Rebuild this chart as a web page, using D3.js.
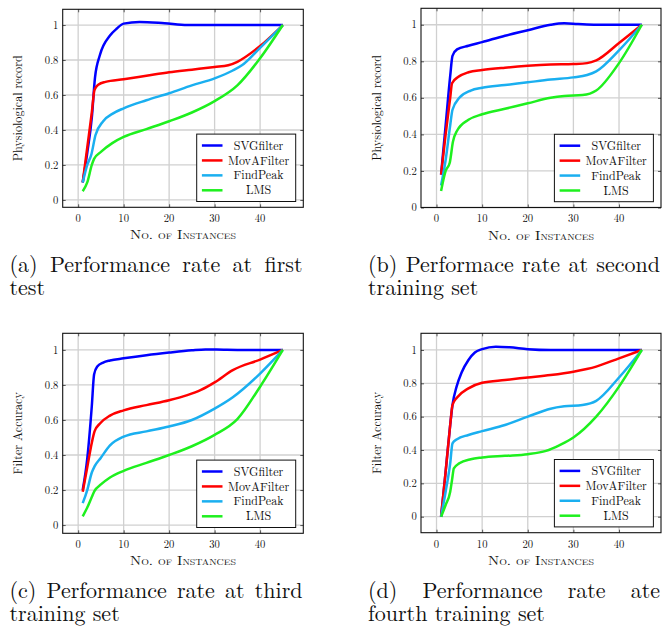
<!DOCTYPE html>
<html>
<head>
<meta charset="utf-8">
<script src="https://cdn.jsdelivr.net/npm/d3@7"></script>
<style>
  html, body { margin: 0; padding: 0; background: #fff; }
  svg { display: block; }
</style>
</head>
<body>
<svg id="chart" width="670" height="627"></svg>
<script>
// ---------------- data ----------------
const seriesNames = ["SVGfilter", "MovAFilter", "FindPeak", "LMS"];
const seriesColors = ["#0000ff", "#ff0000", "#1aaff0", "#1ef01e"];
const xTicks = [0, 10, 20, 30, 40];
const yTicks = [0, 0.2, 0.4, 0.6, 0.8, 1];
const xLabel = "No. of Instances";

// panel (a)
const aSVGfilter  = [[1,0.1],[2,0.27],[3,0.47],[3.7,0.7],[4.8,0.83],[7,0.94],[8.5,0.98],[10,1.008],[13.5,1.018],[19,1.01],[24,1.0],[30,1.0],[45,1.0]];
const aMovAFilter = [[1,0.1],[2,0.3],[3,0.5],[3.6,0.63],[4.5,0.66],[6,0.675],[10,0.69],[15,0.71],[20,0.73],[25,0.745],[30,0.76],[33,0.77],[35,0.79],[40,0.88],[45,1.0]];
const aFindPeak   = [[1,0.1],[2,0.2],[2.9,0.26],[3.8,0.37],[5.5,0.45],[7.7,0.495],[10,0.524],[15,0.57],[20,0.61],[25,0.655],[30,0.695],[34,0.74],[36,0.77],[40,0.87],[45,1.0]];
const aLMS        = [[1,0.05],[2,0.1],[3,0.2],[3.5,0.235],[5,0.275],[7.5,0.325],[10,0.36],[15,0.405],[20,0.45],[25,0.5],[30,0.565],[35,0.655],[40,0.81],[45,1.0]];

// panel (b)
const bSVGfilter  = [[1,0.18],[2,0.45],[3,0.72],[3.5,0.83],[4.5,0.865],[7,0.885],[10,0.905],[15,0.94],[20,0.97],[25,1.0],[28,1.008],[31,1.004],[35,1.0],[45,1.0]];
const bMovAFilter = [[1,0.18],[2,0.4],[3,0.6],[3.4,0.68],[4.8,0.715],[7,0.74],[10,0.752],[15,0.765],[20,0.775],[25,0.782],[30,0.785],[33,0.79],[35,0.805],[40,0.9],[45,1.0]];
const bFindPeak   = [[1,0.12],[2,0.26],[3,0.45],[3.5,0.535],[5,0.6],[7.5,0.64],[10,0.655],[15,0.67],[20,0.685],[25,0.7],[30,0.712],[33,0.725],[35,0.745],[40,0.86],[45,1.0]];
const bLMS        = [[1,0.09],[2,0.2],[2.9,0.245],[3.6,0.36],[4.5,0.42],[7,0.48],[10,0.51],[15,0.54],[20,0.57],[25,0.6],[28,0.61],[32,0.615],[35,0.64],[40,0.79],[45,1.0]];

// panel (c)
const cSVGfilter  = [[1,0.2],[2,0.38],[3,0.68],[3.5,0.86],[4.2,0.905],[5.5,0.928],[7,0.94],[10,0.952],[15,0.97],[20,0.985],[25,0.998],[28,1.003],[32,1.001],[35,1.0],[45,1.0]];
const cMovAFilter = [[1,0.19],[2,0.33],[3,0.47],[3.6,0.535],[4.8,0.58],[7,0.625],[10,0.655],[15,0.685],[20,0.713],[24,0.742],[27,0.772],[30,0.815],[34,0.885],[40,0.945],[45,1.0]];
const cFindPeak   = [[1,0.125],[2,0.2],[3,0.3],[3.6,0.335],[5,0.385],[7,0.455],[10,0.505],[15,0.535],[20,0.563],[25,0.6],[30,0.665],[34,0.73],[40,0.865],[45,1.0]];
const cLMS        = [[1,0.05],[2,0.1],[3,0.16],[3.6,0.195],[5,0.232],[7,0.272],[10,0.31],[15,0.355],[20,0.4],[25,0.45],[30,0.515],[35,0.605],[40,0.79],[45,1.0]];

// panel (d)
const dSVGfilter  = [[1,0],[2,0.27],[3,0.55],[3.5,0.67],[4.4,0.78],[5.5,0.865],[7,0.94],[8.4,0.985],[10,1.005],[13,1.02],[16,1.016],[20,1.005],[25,1.0],[30,1.0],[45,1.0]];
const dMovAFilter = [[1,0],[2,0.27],[3,0.55],[3.5,0.67],[4.5,0.715],[7,0.77],[10,0.803],[15,0.82],[20,0.835],[25,0.85],[30,0.87],[35,0.9],[40,0.95],[45,1.0]];
const dFindPeak   = [[1,0],[2,0.15],[3,0.32],[3.5,0.44],[4.5,0.465],[7,0.49],[10,0.513],[15,0.55],[20,0.6],[25,0.648],[28,0.662],[32,0.67],[35,0.695],[40,0.835],[45,1.0]];
const dLMS        = [[1,0],[2,0.07],[3,0.15],[3.4,0.22],[3.8,0.29],[5,0.32],[7.5,0.345],[10,0.355],[15,0.365],[20,0.375],[24,0.395],[27,0.43],[30,0.475],[35,0.6],[40,0.78],[45,1.0]];

const yLabels = ["Physiological record", "Physiological record", "Filter Accuracy", "Filter Accuracy"];
const captions = [
  ["(a) Performance rate at first", "test"],
  ["(b) Performace rate at second", "training set"],
  ["(c) Performance rate at third", "training set"],
  ["(d) Performance rate ate", "fourth training set"]
];

// ---------------- layout ----------------
const FONT = '"Latin Modern Roman"';
const INK = "#111";
const panels = [
  { box: [62.7, 303.3, 9.3, 207.3],   xDom: [-3.4, 49.5], yDom: [-0.042, 1.09],  series: [aSVGfilter, aMovAFilter, aFindPeak, aLMS], capX: [9.5, 302.5],  capY: 271.5 },
  { box: [421, 661, 8.3, 207.5],      xDom: [-3.4, 49.2], yDom: [0, 1.09],       series: [bSVGfilter, bMovAFilter, bFindPeak, bLMS], capX: [368, 660], capY: 271.5 },
  { box: [62.7, 303.3, 333.3, 533.3], xDom: [-3.4, 49.5], yDom: [-0.047, 1.095], series: [cSVGfilter, cMovAFilter, cFindPeak, cLMS], capX: [9.5, 302.5],  capY: 597.5 },
  { box: [421, 661, 333.3, 532.7],    xDom: [-3.4, 49.2], yDom: [-0.096, 1.1],   series: [dSVGfilter, dMovAFilter, dFindPeak, dLMS], capX: [368, 660], capY: 597.5 }
];

const svg = d3.select("#chart");
svg.append("rect").attr("width", 670).attr("height", 627).attr("fill", "#fff");

function txt(parent) {
  return parent.append("text").attr("font-family", FONT).attr("fill", INK);
}

panels.forEach((p, i) => {
  const [L, R, T, B] = p.box;
  const x = d3.scaleLinear().domain(p.xDom).range([L, R]);
  const y = d3.scaleLinear().domain(p.yDom).range([B, T]);
  const g = svg.append("g");

  // grid
  g.append("g").selectAll("line").data(xTicks).join("line")
    .attr("x1", d => x(d)).attr("x2", d => x(d)).attr("y1", T).attr("y2", B)
    .attr("stroke", "#d0d0d0").attr("stroke-width", 1.3);
  g.append("g").selectAll("line").data(yTicks).join("line")
    .attr("y1", d => y(d)).attr("y2", d => y(d)).attr("x1", L).attr("x2", R)
    .attr("stroke", "#d0d0d0").attr("stroke-width", 1.3);

  // axes via d3.axis (inward ticks, labels placed separately)
  const xAxisB = d3.axisBottom(x).tickValues(xTicks).tickSize(-3).tickFormat("");
  const xAxisT = d3.axisTop(x).tickValues(xTicks).tickSize(-3).tickFormat("");
  const yAxisL = d3.axisLeft(y).tickValues(yTicks).tickSize(-3).tickFormat("");
  const yAxisR = d3.axisRight(y).tickValues(yTicks).tickSize(-3).tickFormat("");
  [[xAxisB, `translate(0,${B})`], [xAxisT, `translate(0,${T})`],
   [yAxisL, `translate(${L},0)`], [yAxisR, `translate(${R},0)`]].forEach(([ax, tr]) => {
    const a = g.append("g").attr("transform", tr).call(ax);
    a.select(".domain").remove();
    a.selectAll(".tick line").attr("stroke", "#555").attr("stroke-width", 1);
  });

  // tick labels
  xTicks.forEach(v => {
    txt(g).attr("x", x(v)).attr("y", B + 14.8).attr("text-anchor", "middle")
      .attr("font-size", 10.6).text(d3.format("")(v));
  });
  yTicks.forEach(v => {
    txt(g).attr("x", L - 4.3).attr("y", y(v) + 3.6).attr("text-anchor", "end")
      .attr("font-size", 10.6).text(d3.format("")(v));
  });

  // axis labels
  txt(g).attr("x", (L + R) / 2).attr("y", B + 32)
    .attr("text-anchor", "middle").attr("font-size", 12).style("font-variant", "small-caps")
    .attr("textLength", 106).attr("lengthAdjust", "spacingAndGlyphs")
    .text(xLabel);
  txt(g).attr("transform", `translate(${L - 40.5},${(T + B) / 2}) rotate(-90)`)
    .attr("text-anchor", "middle").attr("font-size", 12.1).text(yLabels[i]);

  // curves
  const line = d3.line().x(d => x(d[0])).y(d => y(d[1])).curve(d3.curveMonotoneX);
  g.append("g").selectAll("path").data(p.series).join("path")
    .attr("d", line).attr("fill", "none")
    .attr("stroke", (d, j) => seriesColors[j]).attr("stroke-width", 2.5)
    .attr("stroke-linejoin", "round");

  // frame
  g.append("rect").attr("x", L).attr("y", T).attr("width", R - L).attr("height", B - T)
    .attr("fill", "none").attr("stroke", "#111").attr("stroke-width", 1.1);

  // legend
  const lw = 99, lh = 67.4;
  const lx = R - 7.6 - lw, ly = B - 5.8 - lh;
  const lg = g.append("g").attr("transform", `translate(${lx},${ly})`);
  lg.append("rect").attr("width", lw).attr("height", lh).attr("fill", "#fff")
    .attr("stroke", "#111").attr("stroke-width", 1);
  const rowY = d3.scalePoint().domain(seriesNames).range([11.4, 56.2]);
  seriesNames.forEach((name, j) => {
    const it = lg.append("g").attr("transform", `translate(0,${rowY(name)})`);
    it.append("line").attr("x1", 5.2).attr("x2", 25.8).attr("y1", 0).attr("y2", 0)
      .attr("stroke", seriesColors[j]).attr("stroke-width", 2.5);
    txt(it).attr("x", 61.8).attr("y", 4.1).attr("text-anchor", "middle")
      .attr("font-size", 12).text(name);
  });

  // caption: one text element, words as tspans (justified first line, natural last line)
  const fs = 22;
  const [cx0, cx1] = p.capX;
  const ct = txt(svg).attr("font-size", fs);
  captions[i].forEach((ln, li) => {
    const words = ln.split(" ");
    const spans = words.map((w, wi) => ct.append("tspan")
      .attr("y", p.capY + li * 23.5).attr("x", cx0).text(wi < words.length - 1 ? w + " " : (li < captions[i].length - 1 ? w + " " : w)));
    // measure bare word widths
    const widths = words.map(w => {
      const tmp = txt(svg).attr("font-size", fs).text(w);
      const wd = tmp.node().getComputedTextLength();
      tmp.remove();
      return wd;
    });
    const justify = li < captions[i].length - 1 && words.length > 1;
    const total = d3.sum(widths);
    const gap = justify ? (cx1 - cx0 - total) / (words.length - 1) : 0.333 * fs;
    let cx = cx0;
    spans.forEach((s, wi) => {
      s.attr("x", cx);
      cx += widths[wi] + gap;
    });
  });
});
</script>
</body>
</html>
